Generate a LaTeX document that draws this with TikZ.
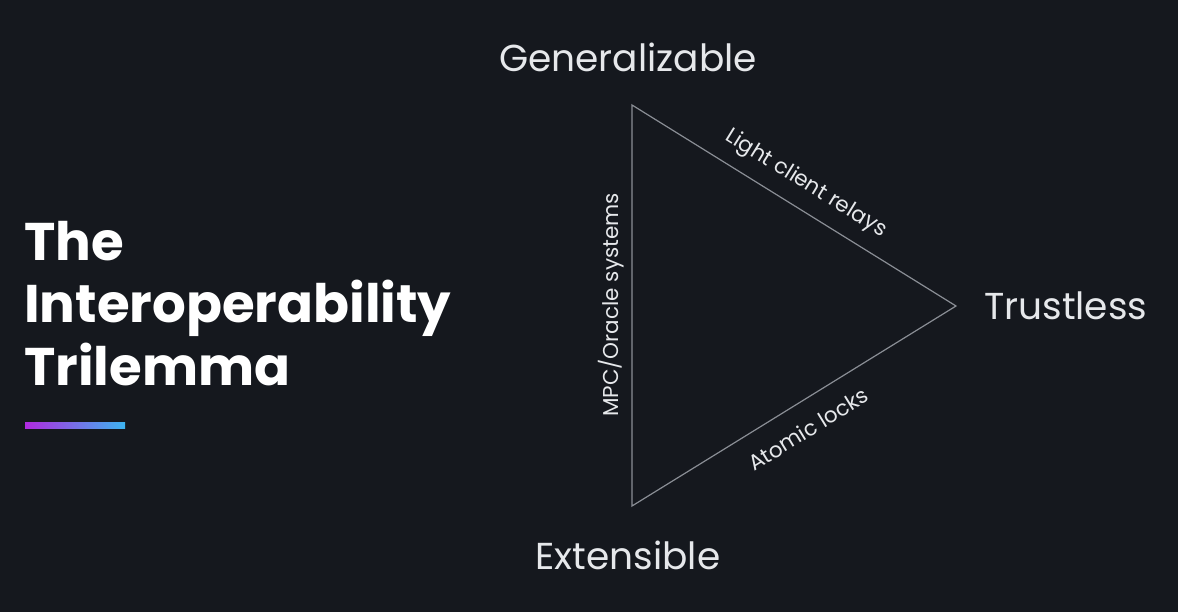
\documentclass[tikz,border=0pt]{standalone}
\usepackage{fontspec}
\usetikzlibrary{calc}
\setmainfont{Poppins}
\definecolor{bg}{HTML}{15181E}
\definecolor{edge}{HTML}{8A8E95}
\definecolor{lbl}{HTML}{E6E8EB}
\definecolor{gpurple}{HTML}{B02AE0}
\definecolor{gblue}{HTML}{3DB4F0}
\begin{document}
\begin{tikzpicture}[x=1pt,y=-1pt,
  vlabel/.style={text=lbl,font=\fontsize{37.5}{42}\selectfont,inner sep=0pt},
  elabel/.style={text=lbl,font=\fontsize{21.5}{24}\selectfont,inner sep=0pt},
  title/.style={text=white,font=\fontsize{53}{62.5}\selectfont\bfseries,align=left,anchor=north west,inner sep=0pt},
  tri/.style={draw=edge,line width=1.2pt,line join=miter}]
\fill[bg] (0,0) rectangle (1178,612);
\useasboundingbox (0,0) rectangle (1178,612);
\coordinate (G) at (632,105);
\coordinate (T) at (956,306);
\coordinate (E) at (632,506);
\draw[tri] (G) -- (T) -- (E) -- cycle;
\node[vlabel] (gen) at (628,57) {Generalizable};
\node[vlabel,anchor=west] (tru) at (984,306) {Trustless};
\node[vlabel] (ext) at (628,555) {Extensible};
\node[elabel,rotate=-31.8] (lcr) at (806,184) {Light client relays};
\node[elabel,rotate=31.6] (atl) at (808,429) {Atomic locks};
\node[elabel,rotate=90] (mpc) at (611,305) {MPC/Oracle systems};
\node[title] (ttl) at (24,221) {The\\Interoperability\\Trilemma};
\shade[left color=gpurple,right color=gblue] (25,422) rectangle (125,428);
\end{tikzpicture}
\end{document}
